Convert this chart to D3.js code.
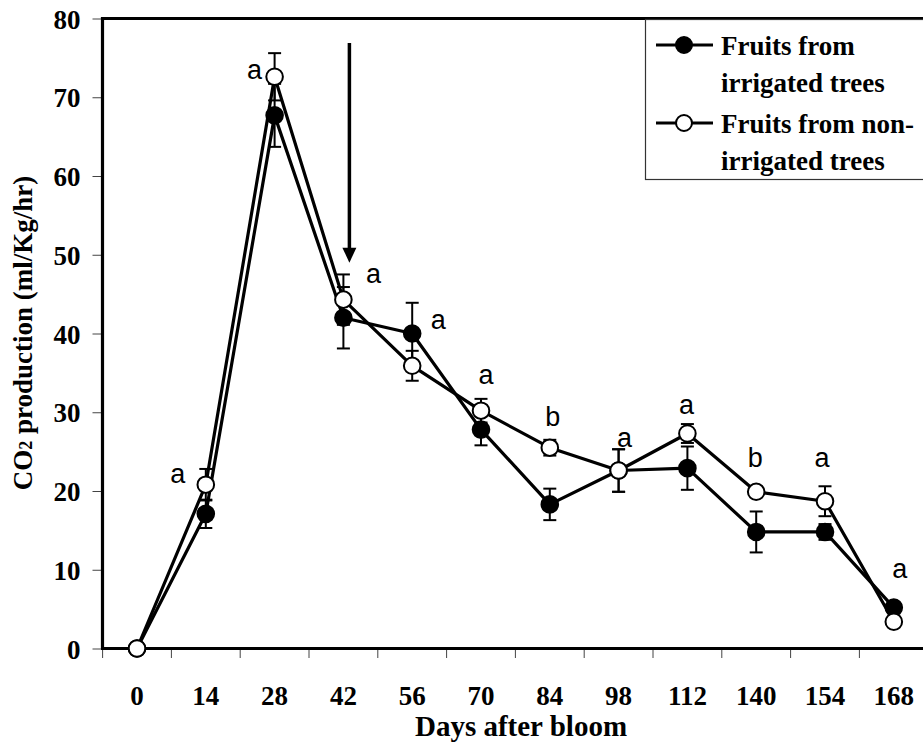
<!DOCTYPE html>
<html>
<head>
<meta charset="utf-8">
<script src="https://cdn.jsdelivr.net/npm/d3@7"></script>
<style>
  body { margin: 0; background: #fff; }
  svg text { font-family: "Liberation Serif", "Times New Roman", serif; font-weight: bold; }
  svg text.sig { font-family: "Liberation Sans", Arial, sans-serif; font-weight: normal; }
</style>
</head>
<body>
<svg id="chart" width="923" height="746"></svg>
<script>
// Days after bloom (categories on the x axis)
var days = ["0", "14", "28", "42", "56", "70", "84", "98", "112", "140", "154", "168"];

// CO2 production (ml/Kg/hr)
var irrigated = [0, 17.1, 67.7, 42.0, 40.0, 27.8, 18.3, 22.6, 22.9, 14.8, 14.8, 5.2];
var irrigatedErr = [0, 1.8, 4.0, 3.9, 3.9, 2.0, 2.0, 2.7, 2.75, 2.6, 1.0, 0.5];
var nonIrrigated = [0, 20.8, 72.6, 44.3, 35.9, 30.2, 25.5, 22.6, 27.3, 19.9, 18.7, 3.4];
var nonIrrigatedErr = [0, 2.0, 3.0, 3.2, 1.9, 1.5, 1.0, 2.7, 1.2, 0.5, 1.9, 0.4];

// significance letters
var letters = ["", "a", "a", "a", "a", "a", "b", "a", "a", "b", "a", "a"];

var yTicks = [0, 10, 20, 30, 40, 50, 60, 70, 80];

var svg = d3.select("#chart");

var x = d3.scaleBand()
  .domain(days)
  .range([102.6, 928.2])
  .padding(0);

var y = d3.scaleLinear()
  .domain([0, 80])
  .range([648.5, 18.5]);

function cx(d) { return x(d) + x.bandwidth() / 2; }

// y axis ticks + labels
var yAxis = svg.append("g")
  .attr("transform", "translate(102.5,0)")
  .call(d3.axisLeft(y).tickValues(yTicks).tickSize(10).tickPadding(12));
yAxis.select(".domain").remove();
yAxis.selectAll(".tick line").attr("stroke", "#444").attr("stroke-width", 1);
yAxis.selectAll(".tick text")
  .attr("font-size", 27)
  .attr("font-family", "Liberation Serif")
  .attr("font-weight", "bold")
  .attr("fill", "#000")
  .attr("dy", "0.36em");

// x axis labels (centered in each band)
var xAxis = svg.append("g")
  .attr("transform", "translate(0,648.5)")
  .call(d3.axisBottom(x).tickSize(0).tickPadding(37));
xAxis.select(".domain").remove();
xAxis.selectAll(".tick text")
  .attr("font-size", 27)
  .attr("font-family", "Liberation Serif")
  .attr("font-weight", "bold")
  .attr("fill", "#000");

// x ticks sit between categories
svg.append("g").selectAll("line")
  .data(days)
  .enter().append("line")
  .attr("x1", function(d) { return x(d); })
  .attr("x2", function(d) { return x(d); })
  .attr("y1", 648.5)
  .attr("y2", 658)
  .attr("stroke", "#444")
  .attr("stroke-width", 1);

// plot frame
svg.append("path")
  .attr("d", "M102.5,648.5 V18.5 H930 M101,648.5 H930")
  .attr("fill", "none")
  .attr("stroke", "#000")
  .attr("stroke-width", 3.2);

// axis titles
svg.append("text")
  .attr("x", 521)
  .attr("y", 736)
  .attr("text-anchor", "middle")
  .attr("font-size", 29)
  .text("Days after bloom");

var yTitle = svg.append("text")
  .attr("transform", "translate(32,333) rotate(-90)")
  .attr("text-anchor", "middle")
  .attr("font-size", 27);
yTitle.append("tspan").text("CO");
yTitle.append("tspan").attr("font-size", 18).text("2");
yTitle.append("tspan").text(" production (ml/Kg/hr)");

// arrow marking day 42
svg.append("line")
  .attr("x1", cx("42") + 6)
  .attr("x2", cx("42") + 6)
  .attr("y1", y(76.9))
  .attr("y2", y(50.5))
  .attr("stroke", "#000")
  .attr("stroke-width", 3.5);
svg.append("path")
  .attr("d", "M" + (cx("42") + 6 - 7) + "," + y(50.9) + " h14 l-7,15 z")
  .attr("fill", "#000");

var line = d3.line()
  .x(function(d, i) { return cx(days[i]); })
  .y(function(d) { return y(d); });

function drawSeries(vals, errs, fill) {
  var g = svg.append("g");
  g.selectAll(".eb")
    .data(vals)
    .enter().append("g")
    .attr("class", "eb")
    .attr("stroke", "#000")
    .attr("stroke-width", 2)
    .each(function(d, i) {
      if (!errs[i]) return;
      var e = d3.select(this), xc = cx(days[i]);
      var top = y(d + errs[i]), bot = y(d - errs[i]);
      e.append("line").attr("x1", xc).attr("x2", xc).attr("y1", top).attr("y2", bot);
      e.append("line").attr("x1", xc - 6.5).attr("x2", xc + 6.5).attr("y1", top).attr("y2", top);
      e.append("line").attr("x1", xc - 6.5).attr("x2", xc + 6.5).attr("y1", bot).attr("y2", bot);
    });
  g.append("path")
    .datum(vals)
    .attr("d", line)
    .attr("fill", "none")
    .attr("stroke", "#000")
    .attr("stroke-width", 3.2)
    .attr("stroke-linejoin", "round");
  g.selectAll("circle")
    .data(vals)
    .enter().append("circle")
    .attr("cx", function(d, i) { return cx(days[i]); })
    .attr("cy", function(d) { return y(d); })
    .attr("r", 8.3)
    .attr("fill", fill)
    .attr("stroke", "#000")
    .attr("stroke-width", 2);
}

drawSeries(irrigated, irrigatedErr, "#000");
drawSeries(nonIrrigated, nonIrrigatedErr, "#fff");

// letter placement relative to the higher point of each day
var letterDx = [0, -28, -20, 30, 26, 5, 3, 6, -1, -1, -3, 6];
var letterDy = [0, -2, 2, -17, -5, -27, -22, -24, -20, -25, -34, -30];

svg.append("g").selectAll("text")
  .data(letters)
  .enter().append("text")
  .attr("class", "sig")
  .attr("x", function(d, i) { return cx(days[i]) + letterDx[i]; })
  .attr("y", function(d, i) { return y(Math.max(irrigated[i], nonIrrigated[i])) + letterDy[i]; })
  .attr("text-anchor", "middle")
  .attr("font-size", 27)
  .text(function(d) { return d; });

// legend
var legend = svg.append("g");
legend.append("rect")
  .attr("x", 645.5)
  .attr("y", 19.5)
  .attr("width", 290)
  .attr("height", 160)
  .attr("fill", "#fff")
  .attr("stroke", "#333")
  .attr("stroke-width", 1.2);

var legendItems = [
  { fill: "#000", lines: ["Fruits from", "irrigated trees"] },
  { fill: "#fff", lines: ["Fruits from non-", "irrigated trees"] }
];
legendItems.forEach(function(item, k) {
  var yy = 45 + k * 78;
  legend.append("line")
    .attr("x1", 656).attr("x2", 713)
    .attr("y1", yy).attr("y2", yy)
    .attr("stroke", "#000").attr("stroke-width", 3);
  legend.append("circle")
    .attr("cx", 684).attr("cy", yy).attr("r", 8)
    .attr("fill", item.fill).attr("stroke", "#000").attr("stroke-width", 2);
  item.lines.forEach(function(t, j) {
    legend.append("text")
      .attr("x", 721)
      .attr("y", yy + 10 + j * 37)
      .attr("font-size", 27)
      .text(t);
  });
});
</script>
</body>
</html>
